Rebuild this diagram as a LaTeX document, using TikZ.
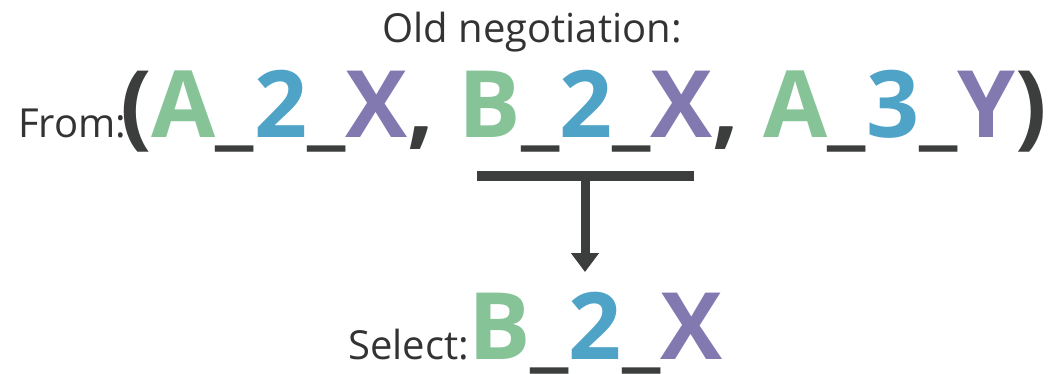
\documentclass[tikz,border=0pt]{standalone}
\usepackage{fontspec}
\setmainfont{Open Sans}
\usetikzlibrary{arrows.meta}
\definecolor{cgreen}{HTML}{86C498}
\definecolor{cblue}{HTML}{4EA3C7}
\definecolor{cpurple}{HTML}{8179B0}
\definecolor{cdark}{HTML}{3C3D3D}
\definecolor{ctext}{HTML}{333333}
\newcommand{\Ga}[1]{\textcolor{cgreen}{#1}}
\newcommand{\Bl}[1]{\textcolor{cblue}{#1}}
\newcommand{\Pu}[1]{\textcolor{cpurple}{#1}}
\newcommand{\Us}{\textcolor{cdark}{\_}}
\tikzset{
  small/.style={inner sep=0pt, text=ctext, font=\fontsize{40}{48}\selectfont},
  big/.style={inner sep=0pt, text=cdark, font=\fontsize{93}{110}\selectfont\bfseries},
  link/.style={draw=cdark, line width=9pt, -{Triangle[width=27pt,length=19pt]}},
}
\begin{document}
\begin{tikzpicture}[x=1pt,y=-1pt]
\useasboundingbox (0,0) rectangle (1049,373);
\node[small, anchor=base] (title) at (532,42) {Old negotiation:};
\node[small, anchor=base west] (from) at (18,137) {From:};
\node[big, anchor=base west] (tuple) at (120,137) {(\Ga{A}\Us\Bl{2}\Us\Pu{X}, \Ga{B}\Us\Bl{2}\Us\Pu{X}, \Ga{A}\Us\Bl{3}\Us\Pu{Y})};
\node[fill=cdark, inner sep=0pt, minimum width=217pt, minimum height=10pt] (bar) at (585,176) {};
\coordinate (tip) at (585,272);
\draw[link] (bar.south) -- (tip);
\node[small, anchor=base west] (select) at (348,359) {Select:};
\node[big, anchor=base west] (chosen) at (468,359) {\Ga{B}\Us\Bl{2}\Us\Pu{X}};
\end{tikzpicture}
\end{document}
